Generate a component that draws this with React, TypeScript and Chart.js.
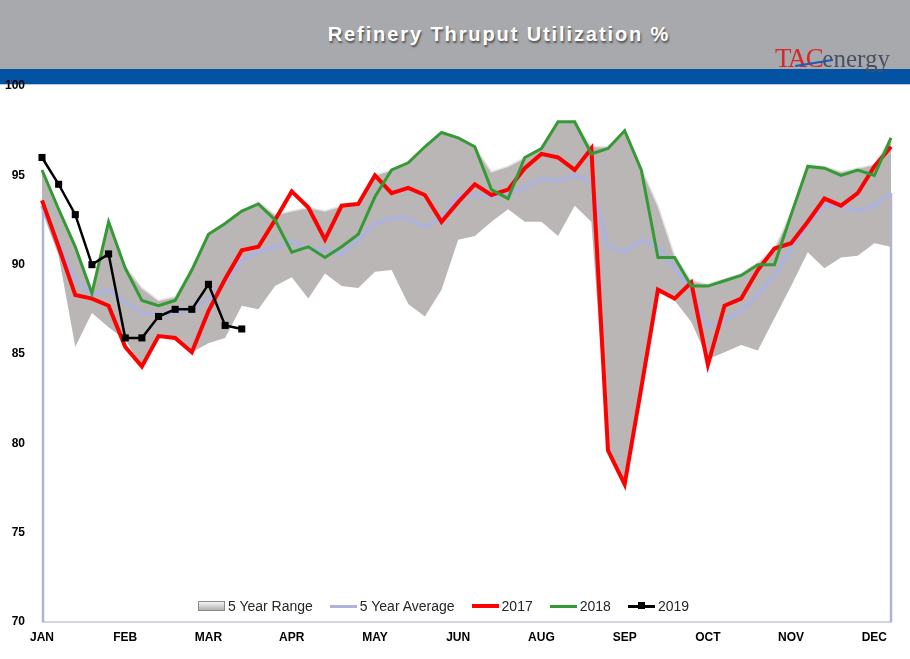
import React, { useEffect, useRef } from 'react';
import { Chart, registerables } from 'chart.js';

Chart.register(...registerables);

// weekly categories (52 weeks)
const weeks = [
  '1', '2', '3', '4', '5', '6', '7', '8', '9', '10', '11', '12', '13',
  '14', '15', '16', '17', '18', '19', '20', '21', '22', '23', '24', '25', '26',
  '27', '28', '29', '30', '31', '32', '33', '34', '35', '36', '37', '38', '39',
  '40', '41', '42', '43', '44', '45', '46', '47', '48', '49', '50', '51', '52',
];

// tick labels shown every 5th week
const monthTicks = ['JAN', 'FEB', 'MAR', 'APR', 'MAY', 'JUN', 'AUG', 'SEP', 'OCT', 'NOV', 'DEC'];

const rangeHigh = [
  95.3, 93.1, 91.0, 88.6, 92.5, 89.9, 88.7, 88.0, 88.2, 89.8, 91.7, 92.3, 93.0,
  93.5, 92.8, 93.0, 93.2, 93.0, 93.3, 93.5, 95.0, 95.3, 95.7, 96.6, 97.4, 97.1,
  96.6, 95.2, 95.5, 96.0, 96.5, 98.0, 98.0, 96.6, 96.6, 97.5, 95.4, 93.3, 90.5,
  89.1, 88.9, 89.2, 89.5, 90.1, 90.9, 92.9, 95.6, 95.5, 95.2, 95.4, 95.6, 97.1,
];

const rangeLow = [
  93.0, 90.5, 85.4, 87.3, 86.5, 85.8, 84.3, 86.0, 85.9, 85.1, 85.6, 85.9, 87.7,
  87.5, 88.8, 89.3, 88.1, 89.5, 88.8, 88.7, 89.6, 89.7, 87.8, 87.1, 88.6, 91.4,
  91.6, 92.4, 93.1, 92.4, 92.4, 91.6, 93.3, 92.4, 79.6, 77.7, 83.1, 88.6, 88.0,
  86.8, 84.7, 85.1, 85.5, 85.2, 87.0, 88.8, 90.7, 89.8, 90.4, 90.5, 91.2, 91.0,
];

const avg5 = [
  93.3, 91.2, 89.2, 88.3, 88.6, 87.9, 87.3, 87.2, 87.3, 87.5, 88.1, 89.0, 90.2,
  90.7, 91.0, 91.3, 90.9, 90.8, 90.6, 91.4, 92.3, 92.6, 92.6, 92.1, 92.6, 93.9,
  93.9, 93.8, 94.0, 94.3, 94.8, 94.7, 95.0, 94.6, 91.0, 90.7, 91.4, 91.0, 89.8,
  88.6, 86.5, 86.9, 87.4, 88.3, 89.4, 90.9, 92.3, 93.3, 93.3, 93.0, 93.3, 94.0,
];

const y2017 = [
  93.6, 91.0, 88.3, 88.1, 87.7, 85.4, 84.3, 86.0, 85.9, 85.1, 87.4, 89.2, 90.8,
  91.0, 92.5, 94.1, 93.2, 91.4, 93.3, 93.4, 95.0, 94.0, 94.3, 93.9, 92.4, 93.5,
  94.5, 93.9, 94.2, 95.4, 96.2, 96.0, 95.3, 96.5, 79.6, 77.7, 83.1, 88.6, 88.1,
  89.0, 84.4, 87.7, 88.1, 89.7, 90.9, 91.2, 92.4, 93.7, 93.3, 94.0, 95.5, 96.6,
];

const y2018 = [
  95.3, 93.1, 91.0, 88.4, 92.4, 89.8, 88.0, 87.7, 88.0, 89.7, 91.7, 92.3, 93.0,
  93.4, 92.5, 90.7, 91.0, 90.4, 91.0, 91.7, 93.8, 95.3, 95.7, 96.6, 97.4, 97.1,
  96.6, 94.2, 93.7, 96.0, 96.5, 98.0, 98.0, 96.2, 96.5, 97.5, 95.3, 90.4, 90.4,
  88.8, 88.8, 89.1, 89.4, 90.0, 90.0, 92.8, 95.5, 95.4, 95.0, 95.3, 95.0, 97.1,
];

const y2019 = [96.0, 94.5, 92.8, 90.0, 90.6, 85.9, 85.9, 87.1, 87.5, 87.5, 88.9, 86.6, 86.4];

const AVG_INDEX = 2;
const AVG_COLOR = '#afb2da';

const avgOutline = {
  id: 'avgOutline',
  beforeDatasetsDraw(chart: any) {
    const meta = chart.getDatasetMeta(AVG_INDEX);
    const pts = meta.data;
    if (!pts || !pts.length) return;
    const { ctx, chartArea } = chart;
    const first = pts[0];
    const last = pts[pts.length - 1];
    ctx.save();
    ctx.strokeStyle = '#d3d4de';
    ctx.lineWidth = 2;
    ctx.beginPath();
    ctx.moveTo(first.x, chartArea.bottom);
    ctx.lineTo(last.x + 1, chartArea.bottom);
    ctx.stroke();
    ctx.strokeStyle = AVG_COLOR;
    ctx.lineWidth = 2.5;
    ctx.beginPath();
    ctx.moveTo(first.x + 1, first.y);
    ctx.lineTo(first.x + 1, chartArea.bottom);
    ctx.moveTo(last.x, last.y);
    ctx.lineTo(last.x, chartArea.bottom);
    ctx.stroke();
    ctx.restore();
  },
};

const FONT = "'Liberation Sans', Arial, sans-serif";

function LegendItem({ icon, label }: { icon: React.ReactNode; label: string }) {
  return (
    <div style={{ display: 'flex', alignItems: 'center', marginRight: 17 }}>
      {icon}
      <span style={{ marginLeft: 3 }}>{label}</span>
    </div>
  );
}

function lineIcon(color: string, h: number) {
  return <div style={{ width: 27, height: h, background: color }} />;
}

export default function App() {
  const ref = useRef<HTMLCanvasElement>(null);

  useEffect(() => {
    const canvas = ref.current;
    if (!canvas) return;
    const chart = new Chart(canvas, {
      type: 'line',
      data: {
        labels: weeks,
        datasets: [
          {
            label: '5 Year Range Low',
            data: rangeLow,
            borderColor: 'rgba(0,0,0,0)',
            borderWidth: 0,
            pointRadius: 0,
            fill: false,
            order: 6,
          },
          {
            label: '5 Year Range',
            data: rangeHigh,
            borderColor: '#e4e2e2',
            borderWidth: 1.5,
            backgroundColor: '#bab6b5',
            pointRadius: 0,
            fill: '-1',
            order: 5,
          },
          {
            label: '5 Year Average',
            data: avg5,
            borderColor: AVG_COLOR,
            borderWidth: 4,
            pointRadius: 0,
            fill: false,
            order: 4,
          },
          {
            label: '2017',
            data: y2017,
            borderColor: '#ff0000',
            borderWidth: 4,
            pointRadius: 0,
            fill: false,
            order: 3,
          },
          {
            label: '2018',
            data: y2018,
            borderColor: '#359a35',
            borderWidth: 3,
            pointRadius: 0,
            fill: false,
            order: 2,
          },
          {
            label: '2019',
            data: y2019,
            borderColor: '#000000',
            backgroundColor: '#000000',
            borderWidth: 2.5,
            pointStyle: 'rect',
            pointRadius: 5,
            pointBorderWidth: 0,
            fill: false,
            order: 1,
          },
        ],
      },
      options: {
        responsive: false,
        animation: false,
        devicePixelRatio: 1,
        layout: { padding: { top: 86, right: 19, bottom: 0, left: 0 } },
        plugins: {
          legend: { display: false },
          tooltip: { enabled: false },
          title: { display: false },
        },
        scales: {
          x: {
            type: 'category',
            grid: { display: false, drawTicks: false },
            border: { display: false },
            afterFit: (scale: any) => {
              scale.height = 37;
            },
            ticks: {
              autoSkip: false,
              maxRotation: 0,
              minRotation: 0,
              padding: 8,
              color: '#000',
              font: { family: FONT, size: 12, weight: 'bold' },
              callback: (_v: any, idx: number) => (idx % 5 === 0 ? monthTicks[idx / 5] : null),
            },
          },
          y: {
            min: 70,
            max: 100,
            grid: { display: false, drawTicks: false },
            border: { display: false },
            afterFit: (scale: any) => {
              scale.width = 42;
            },
            ticks: {
              stepSize: 5,
              padding: 17,
              color: '#000',
              font: { family: FONT, size: 12, weight: 'bold' },
            },
          },
        },
      },
      plugins: [avgOutline],
    });
    return () => chart.destroy();
  }, []);

  return (
    <div
      style={{
        position: 'fixed',
        left: 0,
        top: 0,
        width: 910,
        height: 659,
        overflow: 'hidden',
        background: '#fff',
        fontFamily: FONT,
      }}
    >
      {/* header bands */}
      <div style={{ position: 'absolute', left: 0, top: 0, width: 910, height: 69, background: '#a8a9ac' }} />
      <div style={{ position: 'absolute', left: 0, top: 69, width: 910, height: 15, background: '#0453a3' }} />
      <div style={{ position: 'absolute', left: 0, top: 84, width: 910, height: 1, background: '#b9c6dc' }} />
      <div
        style={{
          position: 'absolute',
          left: 0,
          top: 23,
          width: 998,
          textAlign: 'center',
          color: '#fff',
          fontSize: 20,
          fontWeight: 'bold',
          letterSpacing: '1.9px',
          lineHeight: '23px',
          textShadow: '1px 2px 2px rgba(0,0,0,0.55)',
        }}
      >
        Refinery Thruput Utilization %
      </div>
      {/* logo */}
      <div
        style={{
          position: 'absolute',
          left: 775,
          top: 46,
          lineHeight: '24px',
          fontFamily: "'Liberation Serif', 'DejaVu Serif', serif",
          whiteSpace: 'nowrap',
          zIndex: 2,
        }}
      >
        <span style={{ color: '#d8262c', fontSize: 27, letterSpacing: '-1.5px' }}>TAC</span>
        <span style={{ color: '#4a5061', fontSize: 25 }}>energy</span>
      </div>
      <div
        style={{
          position: 'absolute',
          left: 795,
          top: 62,
          width: 38,
          height: 2,
          background: '#1c5bb0',
          transform: 'rotate(-9deg)',
          zIndex: 3,
        }}
      />
      <canvas
        ref={ref}
        width={910}
        height={659}
        style={{ position: 'absolute', left: 0, top: 0, width: 910, height: 659, zIndex: 1 }}
      />
      {/* legend */}
      <div
        style={{
          position: 'absolute',
          left: 198,
          top: 597,
          height: 18,
          display: 'flex',
          alignItems: 'center',
          fontSize: 14,
          color: '#262626',
          zIndex: 2,
          whiteSpace: 'nowrap',
        }}
      >
        <LegendItem
          label="5 Year Range"
          icon={
            <div
              style={{
                width: 25,
                height: 8,
                border: '1px solid #8a8a8a',
                background: 'linear-gradient(#f4f4f4, #b4b2b2)',
              }}
            />
          }
        />
        <LegendItem label="5 Year Average" icon={lineIcon(AVG_COLOR, 3)} />
        <LegendItem label="2017" icon={lineIcon('#ff0000', 3.5)} />
        <LegendItem label="2018" icon={lineIcon('#359a35', 3)} />
        <LegendItem
          label="2019"
          icon={
            <div style={{ position: 'relative', width: 27, height: 8 }}>
              <div style={{ position: 'absolute', left: 0, top: 3, width: 27, height: 2.5, background: '#000' }} />
              <div style={{ position: 'absolute', left: 10, top: 0, width: 7, height: 7, background: '#000' }} />
            </div>
          }
        />
      </div>
    </div>
  );
}
